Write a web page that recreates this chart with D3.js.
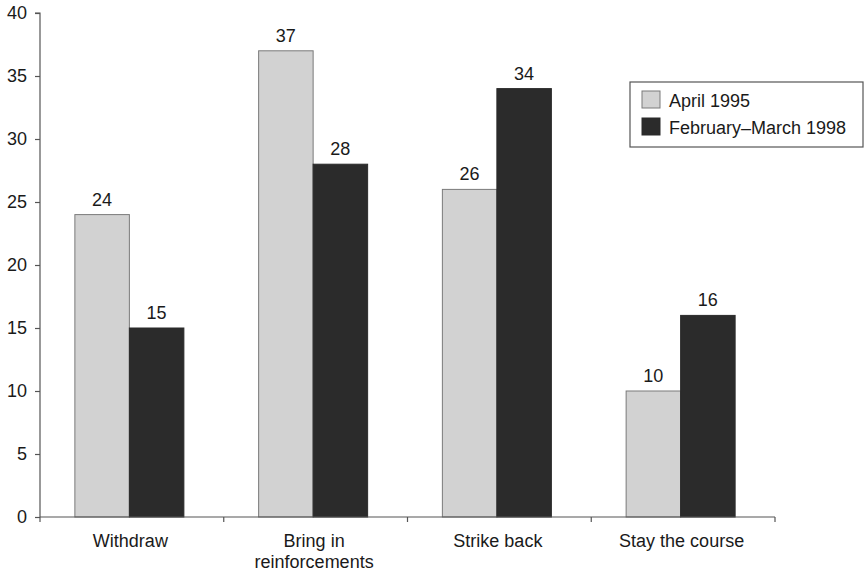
<!DOCTYPE html>
<html>
<head>
<meta charset="utf-8">
<script src="https://cdn.jsdelivr.net/npm/d3@7"></script>
<style>
  body { margin: 0; background: #fff; }
  svg { display: block; }
  text { font-family: "Liberation Sans", Arial, sans-serif; fill: #1a1a1a; }
</style>
</head>
<body>
<svg id="chart" width="865" height="572"></svg>
<script>
const categories = ["Withdraw", "Bring in\nreinforcements", "Strike back", "Stay the course"];
const seriesNames = ["April 1995", "February\u2013March 1998"];
const april1995 = [24, 37, 26, 10];
const febMar1998 = [15, 28, 34, 16];
const yTicks = [0, 5, 10, 15, 20, 25, 30, 35, 40];
const colors = ["#d2d2d2", "#2b2b2b"];

const svg = d3.select("#chart");
const x0 = 40, x1 = 775, yTop = 13, yBot = 517;
const FS = 18;

const y = d3.scaleLinear().domain([0, 40]).range([yBot, yTop]);
const xBand = d3.scaleBand().domain(categories).range([x0, x1]).paddingInner(0).paddingOuter(0);
const xInner = d3.scaleBand().domain(seriesNames).range([0, 109]);
const groupOffset = (xBand.bandwidth() - 109) / 2 - 2.5;

const data = categories.map((c, i) => ({ cat: c, vals: [april1995[i], febMar1998[i]] }));

// bars
const groups = svg.append("g").selectAll("g").data(data).join("g")
  .attr("transform", d => `translate(${xBand(d.cat) + groupOffset},0)`);

groups.selectAll("rect").data(d => d.vals.map((v, j) => ({ v, s: seriesNames[j], j })))
  .join("rect")
  .attr("x", d => xInner(d.s))
  .attr("y", d => y(d.v))
  .attr("width", xInner.bandwidth())
  .attr("height", d => y(0) - y(d.v))
  .attr("fill", d => colors[d.j])
  .attr("stroke", d => d.j === 0 ? "#7a7a7a" : "#2b2b2b")
  .attr("stroke-width", 1);

groups.selectAll("text.val").data(d => d.vals.map((v, j) => ({ v, s: seriesNames[j], j })))
  .join("text")
  .attr("class", "val")
  .attr("x", d => xInner(d.s) + xInner.bandwidth() / 2)
  .attr("y", d => y(d.v) - 9)
  .attr("text-anchor", "middle")
  .attr("font-size", FS)
  .text(d => d.v);

// y axis
const yAxis = d3.axisLeft(y).tickValues(yTicks).tickSize(5).tickPadding(8);
const gy = svg.append("g").attr("transform", `translate(${x0},0)`).call(yAxis);
gy.select(".domain").attr("d", `M-5,${yTop}H0V${yBot}`).attr("stroke", "#555").attr("stroke-width", 1.2);
gy.selectAll(".tick line").attr("stroke", "#555").attr("stroke-width", 1.2);
gy.selectAll(".tick text").attr("font-size", FS).attr("font-family", "Liberation Sans, Arial, sans-serif").attr("fill", "#1a1a1a");

// x axis: domain line plus separator ticks
const sepTicks = [x0, ...categories.slice(1).map(c => xBand(c)), x1];
const gx = svg.append("g");
gx.append("line").attr("x1", x0).attr("x2", x1).attr("y1", yBot).attr("y2", yBot)
  .attr("stroke", "#555").attr("stroke-width", 1.2);
gx.selectAll("line.sep").data(sepTicks).join("line").attr("class", "sep")
  .attr("x1", d => d).attr("x2", d => d).attr("y1", yBot).attr("y2", yBot + 5)
  .attr("stroke", "#555").attr("stroke-width", 1.2);

// category labels
const labels = gx.selectAll("text.cat").data(categories).join("text").attr("class", "cat")
  .attr("text-anchor", "middle")
  .attr("font-size", FS)
  .attr("x", d => xBand(d) + xBand.bandwidth() / 2 - 1.5)
  .attr("y", 547);
labels.each(function(d) {
  const lines = d.split("\n");
  d3.select(this).selectAll("tspan").data(lines).join("tspan")
    .attr("x", d3.select(this).attr("x"))
    .attr("dy", (l, i) => i === 0 ? 0 : 21)
    .text(l => l);
});

// legend
const lg = svg.append("g");
lg.append("rect").attr("x", 630).attr("y", 82).attr("width", 233).attr("height", 65)
  .attr("fill", "#fff").attr("stroke", "#555").attr("stroke-width", 1.2);
const items = lg.selectAll("g").data(seriesNames).join("g")
  .attr("transform", (d, i) => `translate(642,${91 + i * 27})`);
items.append("rect").attr("width", 18).attr("height", 17)
  .attr("fill", (d, i) => colors[i]).attr("stroke", (d, i) => i === 0 ? "#7a7a7a" : "#2b2b2b");
items.append("text").attr("x", 27).attr("y", 16).attr("font-size", FS).text(d => d);
</script>
</body>
</html>
